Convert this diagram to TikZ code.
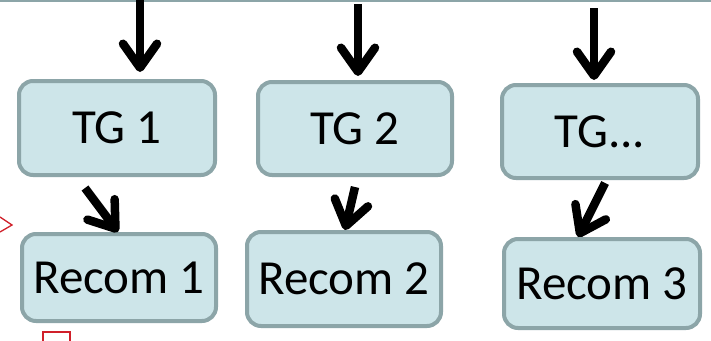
\documentclass[tikz,border=0pt]{standalone}
\usepackage{fontspec}
\setmainfont{Carlito}
\usetikzlibrary{arrows.meta}
\definecolor{boxfill}{HTML}{CDE5E9}
\definecolor{boxline}{HTML}{8CA5A8}
\definecolor{markred}{HTML}{D0202A}
\begin{document}
\begin{tikzpicture}[x=1pt,y=-1pt,
  stage/.style={draw=boxline, fill=boxfill, line width=4pt, rounded corners=14pt,
    inner sep=0pt, font=\fontsize{49}{56}\selectfont, text=black},
  flow/.style={line width=8.5pt, draw=black,
    -{Straight Barb[length=24pt,width=34pt,round]}}]
\useasboundingbox (0,0) rectangle (711,340);
\fill[white] (0,0) rectangle (711,340);
% grey rule along the top edge
\draw[boxline, line width=2pt] (0,1) -- (711,1);

% task groups
\node[stage, minimum width=196pt, minimum height=94pt] (tg1) at (117,128) {TG 1};
\node[stage, minimum width=194pt, minimum height=93pt] (tg2) at (355,128.5) {TG 2};
\node[stage, minimum width=196pt, minimum height=93pt] (tg3) at (600,131.5) {TG...};

% recommendations
\node[stage, minimum width=194pt, minimum height=87pt] (rc1) at (119,277.5) {Recom 1};
\node[stage, minimum width=194pt, minimum height=94pt] (rc2) at (344,279) {Recom 2};
\node[stage, minimum width=196pt, minimum height=89pt] (rc3) at (602,283.5) {Recom 3};

% incoming inputs
\coordinate (in1) at (140,-2);
\coordinate (in2) at (358,4);
\coordinate (in3) at (594,8);
\draw[flow] (in1) -- ([xshift=23pt,yshift=7pt]tg1.north);
\draw[flow] (in2) -- ([xshift=3pt,yshift=4pt]tg2.north);
\draw[flow] (in3) -- ([xshift=-6pt,yshift=3pt]tg3.north);

% group to recommendation
\draw[flow] ([xshift=-32pt,yshift=-11pt]tg1.south) -- ([xshift=-1pt]rc1.north);
\draw[flow] ([yshift=-10pt]tg2.south) -- ([xshift=1pt]rc2.north);
\draw[flow] ([xshift=5pt,yshift=-3pt]tg3.south) -- ([xshift=-24pt]rc3.north);

% red marks at the left edge
\draw[markred, line width=1.3pt] (0,217) -- (12,225) -- (0,232);
\draw[markred, line width=1.3pt] (43,345) -- (43,332) -- (70,332) -- (70,345);
\end{tikzpicture}
\end{document}
